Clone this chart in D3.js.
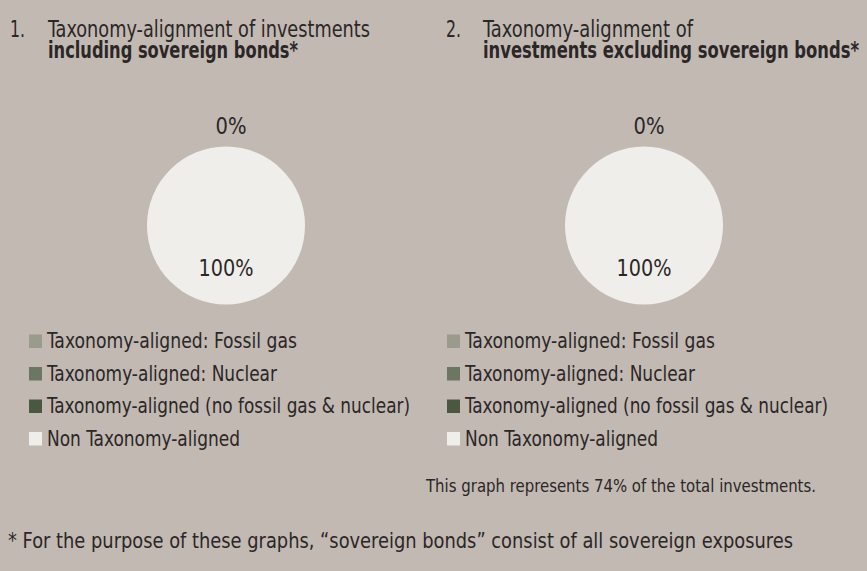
<!DOCTYPE html>
<html>
<head>
<meta charset="utf-8">
<script src="https://cdn.jsdelivr.net/npm/d3@7"></script>
<style>
  html, body { margin: 0; padding: 0; background: #c2b9b3; }
  svg { display: block; }
  text { font-family: "Liberation Sans Narrow", "DejaVu Sans Condensed", "Roboto", "Liberation Sans", sans-serif; font-stretch: condensed; fill: #2b2727; }
</style>
</head>
<body>
<svg id="chart" width="867" height="571"></svg>
<script>
// Categories shared by both pies and legends
const categories = [
  "Taxonomy-aligned: Fossil gas",
  "Taxonomy-aligned: Nuclear",
  "Taxonomy-aligned (no fossil gas & nuclear)",
  "Non Taxonomy-aligned"
];
const categoryColors = ["#9a9b8d", "#6b7663", "#4a5841", "#f0eeeb"];

// Shares (%) per chart
const includingSovereign = [0, 0, 0, 100];
const excludingSovereign = [0, 0, 0, 100];

// Label texts
const chartNumbers = ["1.", "2."];
const titleLines1 = ["Taxonomy-alignment of investments", "including sovereign bonds*"];
const titleLines2 = ["Taxonomy-alignment of", "investments excluding sovereign bonds*"];
const noteText = "This graph represents 74% of the total investments.";
const footnoteText = "* For the purpose of these graphs, \u201csovereign bonds\u201d consist of all sovereign exposures";

const svg = d3.select("#chart");
const radius = 79;

const panels = [
  { values: includingSovereign, title: titleLines1, num: chartNumbers[0], numX: 10, textX: 48, cx: 226, cy: 225.5,
    titleW: [322, 250], legendX: 29, legendW: [250, 230, 363, 193] },
  { values: excludingSovereign, title: titleLines2, num: chartNumbers[1], numX: 446, textX: 483, cx: 644, cy: 225.5,
    titleW: [210, 376], legendX: 447, legendW: [250, 230, 363, 193] }
];

const pie = d3.pie().sort(null).value(d => d.value);
const arc = d3.arc().innerRadius(0).outerRadius(radius);
const color = d3.scaleOrdinal().domain(categories).range(categoryColors);

panels.forEach(p => {
  const g = svg.append("g");

  // Title
  g.append("text").attr("x", p.numX).attr("y", 36.5)
    .style("font-size", "22.5px").attr("textLength", 15).attr("lengthAdjust", "spacingAndGlyphs").text(p.num);
  p.title.forEach((line, i) => {
    g.append("text").attr("x", p.textX).attr("y", i === 0 ? 36.5 : 58)
      .style("font-size", "22.5px")
      .style("font-weight", i === 1 ? "bold" : "normal")
      .attr("textLength", p.titleW[i]).attr("lengthAdjust", "spacingAndGlyphs")
      .text(line);
  });

  // Pie
  const data = categories.map((c, i) => ({ key: c, value: p.values[i] }));
  const pg = g.append("g").attr("transform", `translate(${p.cx},${p.cy})`);
  pg.selectAll("path").data(pie(data)).join("path")
    .attr("d", arc)
    .attr("fill", d => color(d.data.key));

  // Value labels: aligned share above the pie, non-aligned share inside
  const alignedTotal = d3.sum(p.values.slice(0, 3));
  const nonAligned = p.values[3];
  pg.append("text").attr("x", 5).attr("y", -91.5).attr("text-anchor", "middle")
    .style("font-size", "22.5px").attr("textLength", 31).attr("lengthAdjust", "spacingAndGlyphs")
    .text(`${alignedTotal}%`);
  pg.append("text").attr("x", 0).attr("y", 50.5).attr("text-anchor", "middle")
    .style("font-size", "22.5px").attr("textLength", 55).attr("lengthAdjust", "spacingAndGlyphs")
    .text(`${nonAligned}%`);

  // Legend
  const rowY = d3.scalePoint().domain(categories).range([348, 445.5]);
  const lg = g.append("g");
  categories.forEach((c, i) => {
    const y = rowY(c);
    lg.append("rect").attr("x", p.legendX).attr("y", y - 13.5)
      .attr("width", 13).attr("height", 13.5).attr("fill", color(c));
    lg.append("text").attr("x", p.legendX + 18).attr("y", y)
      .style("font-size", "21px")
      .attr("textLength", p.legendW[i]).attr("lengthAdjust", "spacingAndGlyphs")
      .text(c);
  });
});

// Note under the second chart
svg.append("text").attr("x", 426).attr("y", 491.5)
  .style("font-size", "18px")
  .attr("textLength", 390).attr("lengthAdjust", "spacingAndGlyphs")
  .text(noteText);

// Footnote
svg.append("text").attr("x", 8).attr("y", 547.5)
  .style("font-size", "21px")
  .attr("textLength", 785).attr("lengthAdjust", "spacingAndGlyphs")
  .text(footnoteText);
</script>
</body>
</html>
